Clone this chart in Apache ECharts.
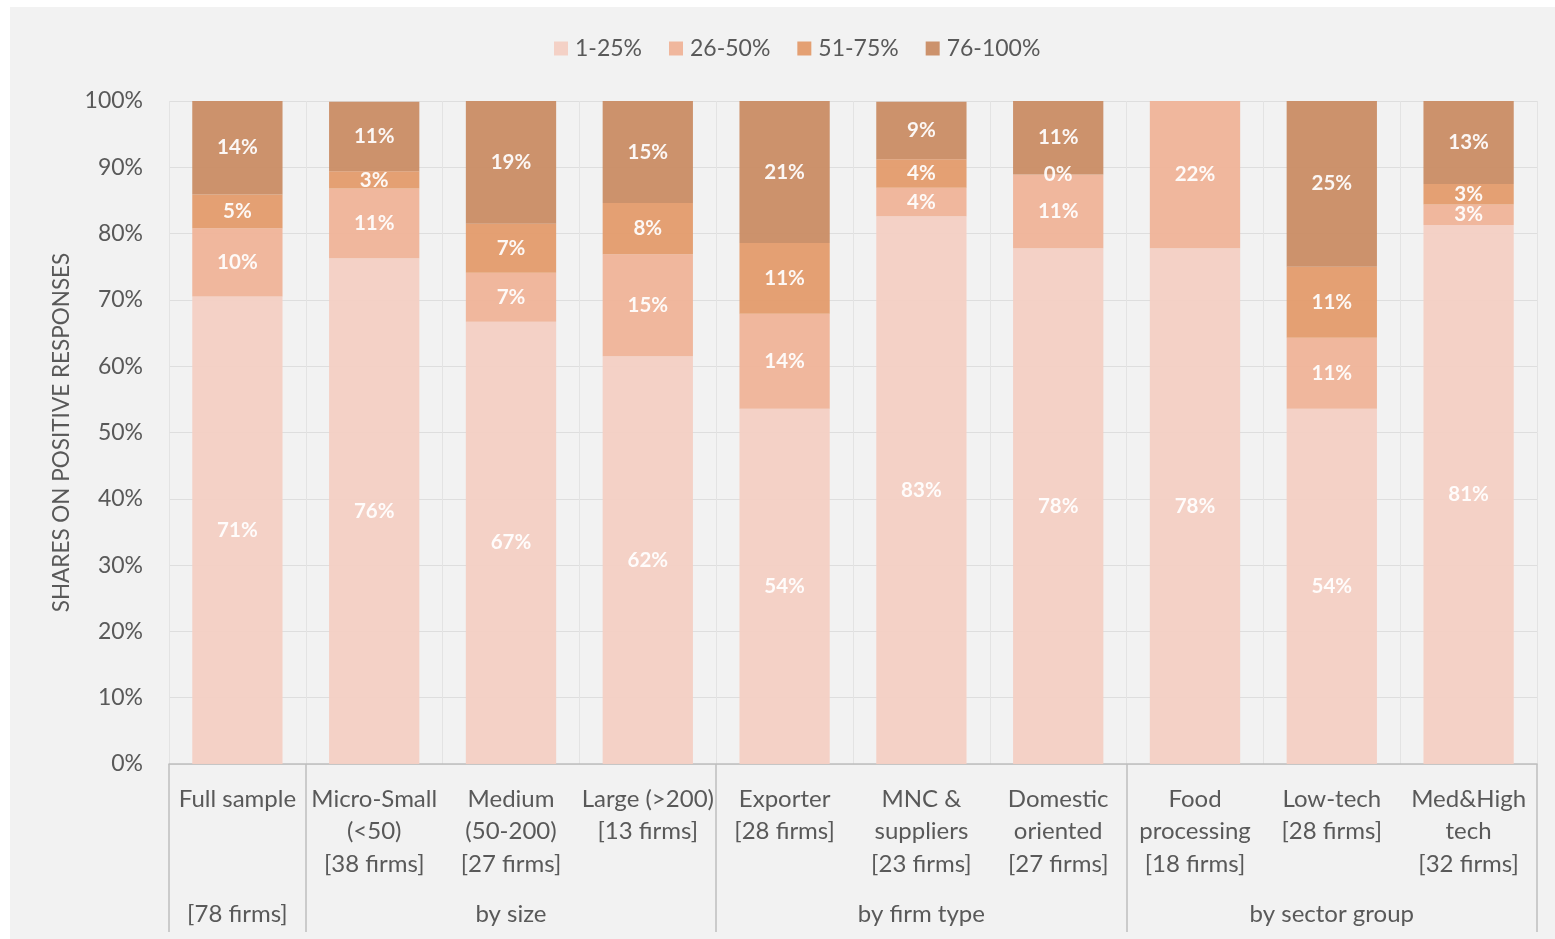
<!DOCTYPE html>
<html>
<head>
<meta charset="utf-8">
<script src="https://cdn.jsdelivr.net/npm/echarts@6/dist/echarts.min.js"></script>
<style>
  html, body { margin: 0; padding: 0; background: #ffffff; }
  #chart { position: absolute; left: 10px; top: 7px; width: 1545px; height: 932px; background: #f2f2f2; }
</style>
</head>
<body>
<div id="chart"></div>
<script>
// Categories (bottom axis, level 1)
const categories = [
  "Full sample",
  "Micro-Small\n(<50)\n[38 firms]",
  "Medium\n(50-200)\n[27 firms]",
  "Large (>200)\n[13 firms]",
  "Exporter\n[28 firms]",
  "MNC &\nsuppliers\n[23 firms]",
  "Domestic\noriented\n[27 firms]",
  "Food\nprocessing\n[18 firms]",
  "Low-tech\n[28 firms]",
  "Med&High\ntech\n[32 firms]"
];
// Group labels (bottom axis, level 2), placed under the middle category of each group
const groupLabels = ["[78 firms]", "", "by size", "", "", "by firm type", "", "", "by sector group", ""];
// Index of the first category of each group
const groupStarts = [0, 1, 4, 7];

const seriesNames = ["1-25%", "26-50%", "51-75%", "76-100%"];
const share1to25   = [70.5, 76.3, 66.7, 61.5, 53.6, 82.6, 77.8, 77.8, 53.6, 81.3];
const share26to50  = [10.3, 10.5, 7.4, 15.4, 14.3, 4.3, 11.1, 22.2, 10.7, 3.1];
const share51to75  = [5.1, 2.6, 7.4, 7.7, 10.7, 4.3, 0, null, 10.7, 3.1];
const share76to100 = [14.1, 10.5, 18.5, 15.4, 21.4, 8.7, 11.1, null, 25.0, 12.5];
const yTicks = [0, 10, 20, 30, 40, 50, 60, 70, 80, 90, 100];

const colors = ["#f4cfc3", "#f0b397", "#e39a69", "#c98b62"];
const FONT = "Lato, 'Open Sans', sans-serif";
const TEXT = "#595959";

const chart = echarts.init(document.getElementById('chart'));
const allData = [share1to25, share26to50, share51to75, share76to100];

const option = {
  backgroundColor: '#f2f2f2',
  textStyle: { fontFamily: FONT },
  legend: {
    top: 25,
    left: 539,
    itemWidth: 14,
    itemHeight: 14,
    itemGap: 27,
    icon: 'rect',
    textStyle: { fontSize: 23, color: TEXT, fontFamily: FONT, padding: [0, 0, 0, 2] },
    data: seriesNames
  },
  grid: { left: 159, right: 18, top: 94, bottom: 175, containLabel: false },
  xAxis: [
    {
      type: 'category',
      data: categories,
      position: 'bottom',
      axisLine: { show: true, lineStyle: { color: '#bfbfbf', width: 1.5 } },
      axisTick: { show: false },
      splitLine: { show: true, interval: 0, lineStyle: { color: '#e3e3e3', width: 1 } },
      axisLabel: {
        interval: 0,
        margin: 19,
        fontSize: 24,
        lineHeight: 32.5,
        color: TEXT,
        fontFamily: FONT,
        verticalAlign: 'top'
      }
    },
    {
      type: 'category',
      data: groupLabels.map((g, i) => i),
      position: 'bottom',
      axisLine: { show: false },
      axisTick: {
        show: true,
        length: 168,
        interval: function (index) { return groupStarts.indexOf(index) >= 0; },
        lineStyle: { color: '#bfbfbf', width: 1.5 }
      },
      splitLine: { show: false },
      axisLabel: {
        interval: 0,
        margin: 134,
        fontSize: 24,
        lineHeight: 32,
        color: TEXT,
        fontFamily: FONT,
        verticalAlign: 'top',
        formatter: function (v, i) { return groupLabels[i]; }
      }
    }
  ],
  yAxis: {
    type: 'value',
    min: 0,
    max: 100,
    interval: 10,
    name: 'SHARES ON POSITIVE RESPONSES',
    nameLocation: 'middle',
    nameGap: 96,
    nameRotate: 90,
    nameTextStyle: { fontSize: 22.5, color: TEXT, fontFamily: FONT },
    axisLine: { show: false },
    axisTick: { show: false },
    splitLine: { show: true, lineStyle: { color: '#dedede', width: 1.2 } },
    axisLabel: {
      margin: 26,
      fontSize: 23,
      color: TEXT,
      fontFamily: FONT,
      formatter: function (v) { return yTicks.indexOf(v) >= 0 ? v + '%' : ''; }
    }
  },
  series: seriesNames.map((name, k) => ({
    name: name,
    type: 'bar',
    stack: 'total',
    xAxisIndex: 0,
    barWidth: '66%',
    itemStyle: { color: colors[k], opacity: 0.93 },
    label: {
      show: true,
      position: 'inside',
      color: '#ffffff',
      fontWeight: 'bold',
      fontSize: 20.5,
      fontFamily: FONT,
      formatter: function (p) { return (p.value === null || p.value === undefined || p.value === '-') ? '' : Math.round(p.value) + '%'; }
    },
    labelLayout: { hideOverlap: false },
    data: allData[k]
  }))
};
chart.setOption(option);
</script>
</body>
</html>
